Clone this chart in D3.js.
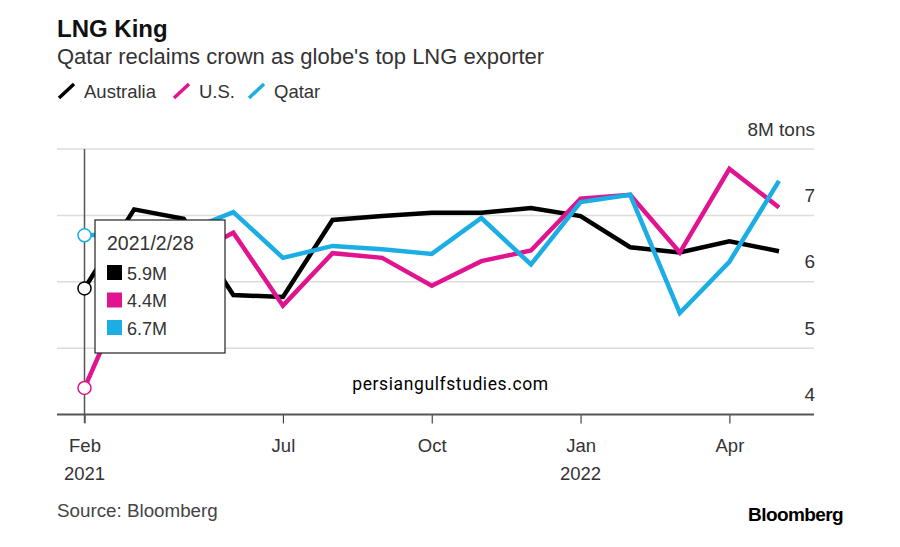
<!DOCTYPE html>
<html>
<head>
<meta charset="utf-8">
<script src="https://cdn.jsdelivr.net/npm/d3@7/dist/d3.min.js"></script>
<style>
  html, body { margin: 0; padding: 0; background: #fff; }
  svg { display: block; }
  text { font-family: "Liberation Sans", sans-serif; }
</style>
</head>
<body>
<svg id="visualization" width="900" height="547"></svg>
<script>
// month-end readings, the source skips 2021-03
const months = ["2021-02", "2021-04", "2021-05", "2021-06", "2021-07", "2021-08", "2021-09", "2021-10",
    "2021-11", "2021-12", "2022-01", "2022-02", "2022-03", "2022-04", "2022-05"];
const australia = [5.9, 7.09, 6.95, 5.8, 5.77, 6.93, 6.99, 7.04, 7.04, 7.11, 6.99, 6.52, 6.44, 6.61, 6.46];
const us = [4.4, 6.1, 6.35, 6.74, 5.64, 6.43, 6.36, 5.94, 6.31, 6.47, 7.25, 7.31, 6.44, 7.7, 7.12];
const qatar = [6.7, 6.72, 6.75, 7.05, 6.36, 6.54, 6.49, 6.42, 6.96, 6.26, 7.2, 7.31, 5.53, 6.3, 7.52];
const seriesNames = ["Australia", "U.S.", "Qatar"];
const seriesColors = ["#000000", "#e0148f", "#1aaee5"];
const yTicks = [4, 5, 6, 7, 8];
const xTicks = ["2021-02", "2021-07", "2021-10", "2022-01", "2022-04"];
const xTickLabels = ["Feb", "Jul", "Oct", "Jan", "Apr"];
const xYearLabels = ["2021", "", "", "2022", ""];
const tooltipDate = "2021/2/28";

const svg = d3.select("#visualization");
const seriesValues = [australia, us, qatar];

const x = d3.scalePoint().domain(months).range([84.5, 779]);
const y = d3.scaleLinear().domain([4, 8]).range([414.5, 149]);

// title block
svg.append("text").attr("x", 57).attr("y", 37).attr("font-size", 24).attr("font-weight", 700)
    .attr("fill", "#111").text("LNG King");
svg.append("text").attr("x", 57).attr("y", 64).attr("font-size", 22).attr("fill", "#333")
    .text("Qatar reclaims crown as globe's top LNG exporter");

// legend
const legendX = [57, 172, 247];
const legend = svg.selectAll("g.legend")
    .data(seriesNames)
    .join("g")
    .attr("class", "legend")
    .attr("transform", (d, i) => `translate(${legendX[i]}, 0)`);
legend.append("line")
    .attr("x1", 2).attr("y1", 98).attr("x2", 17).attr("y2", 84)
    .attr("stroke", (d, i) => seriesColors[i])
    .attr("stroke-width", 3.5);
legend.append("text")
    .attr("x", 27).attr("y", 98).attr("font-size", 18.5).attr("fill", "#333")
    .text(d => d);

// gridlines and y labels
svg.selectAll("line.grid")
    .data(yTicks.slice(1))
    .join("line")
    .attr("class", "grid")
    .attr("x1", 57).attr("x2", 814)
    .attr("y1", d => y(d)).attr("y2", d => y(d))
    .attr("stroke", "#dcdcdc").attr("stroke-width", 1.5);
svg.selectAll("text.ylabel")
    .data(yTicks)
    .join("text")
    .attr("class", "ylabel")
    .attr("x", 815)
    .attr("y", d => y(d) - 13.5)
    .attr("text-anchor", "end")
    .attr("font-size", 19)
    .attr("fill", "#333")
    .text(d => d === 8 ? "8M tons" : d);

// x axis
const xAxis = d3.axisBottom(x)
    .tickValues(xTicks)
    .tickSize(9)
    .tickSizeOuter(0)
    .tickFormat(d => xTickLabels[xTicks.indexOf(d)]);
const xAxisG = svg.append("g")
    .attr("transform", `translate(0, ${y(4)})`)
    .call(xAxis);
xAxisG.select(".domain").remove();
xAxisG.selectAll(".tick line").attr("stroke", "#444").attr("stroke-width", 1.2);
xAxisG.selectAll(".tick text")
    .attr("y", 37.5).attr("dy", 0)
    .attr("font-family", '"Liberation Sans", sans-serif')
    .attr("font-size", 18.5).attr("fill", "#333");
svg.append("line")
    .attr("x1", 57).attr("x2", 814)
    .attr("y1", y(4)).attr("y2", y(4))
    .attr("stroke", "#555").attr("stroke-width", 2);
svg.selectAll("text.year")
    .data(xYearLabels)
    .join("text")
    .attr("class", "year")
    .attr("x", (d, i) => x(xTicks[i]) + (i === 3 ? 0 : 0))
    .attr("y", 480)
    .attr("text-anchor", "middle")
    .attr("font-size", 18.5)
    .attr("fill", "#333")
    .text(d => d);

// series
const line = d3.line()
    .x((d, i) => x(months[i]))
    .y(d => y(d));
svg.selectAll("path.series")
    .data(seriesValues)
    .join("path")
    .attr("class", "series")
    .attr("fill", "none")
    .attr("stroke", (d, i) => seriesColors[i])
    .attr("stroke-width", 4.5)
    .attr("stroke-linejoin", "miter")
    .attr("d", line);

// crosshair at the first month
svg.append("line")
    .attr("x1", x(months[0])).attr("x2", x(months[0]))
    .attr("y1", y(8)).attr("y2", 423)
    .attr("stroke", "#555").attr("stroke-width", 1.5);
svg.selectAll("circle.hover")
    .data(seriesValues)
    .join("circle")
    .attr("class", "hover")
    .attr("cx", x(months[0]))
    .attr("cy", d => y(d[0]))
    .attr("r", 6.5)
    .attr("fill", "#fff")
    .attr("stroke", (d, i) => seriesColors[i])
    .attr("stroke-width", 1.5);

// tooltip
const tip = svg.append("g").attr("transform", "translate(95, 220)");
tip.append("rect")
    .attr("x", 0).attr("y", 0).attr("width", 130).attr("height", 133)
    .attr("fill", "#fff").attr("stroke", "#222").attr("stroke-width", 1.2);
tip.append("text")
    .attr("x", 12).attr("y", 30).attr("font-size", 19.5).attr("fill", "#333")
    .text(tooltipDate);
const tipRow = tip.selectAll("g.row")
    .data(seriesValues)
    .join("g")
    .attr("class", "row")
    .attr("transform", (d, i) => `translate(12, ${45 + i * 27.5})`);
tipRow.append("rect")
    .attr("width", 15).attr("height", 15)
    .attr("fill", (d, i) => seriesColors[i]);
tipRow.append("text")
    .attr("x", 20).attr("y", 14.5).attr("font-size", 18).attr("fill", "#333")
    .text(d => d3.format(".1f")(d[0]) + "M");

// watermark, source, logo
svg.append("text").attr("x", 450.5).attr("y", 390).attr("text-anchor", "middle")
    .attr("font-size", 17.5).attr("letter-spacing", 0.6).attr("fill", "#000")
    .style("font-family", "Roboto, sans-serif")
    .text("persiangulfstudies.com");
svg.append("text").attr("x", 57).attr("y", 517).attr("font-size", 18.8).attr("fill", "#444")
    .text("Source: Bloomberg");
svg.append("text").attr("x", 843).attr("y", 521).attr("text-anchor", "end")
    .attr("font-size", 19).attr("font-weight", 700).attr("letter-spacing", -0.6).attr("fill", "#000")
    .text("Bloomberg");
</script>
</body>
</html>
